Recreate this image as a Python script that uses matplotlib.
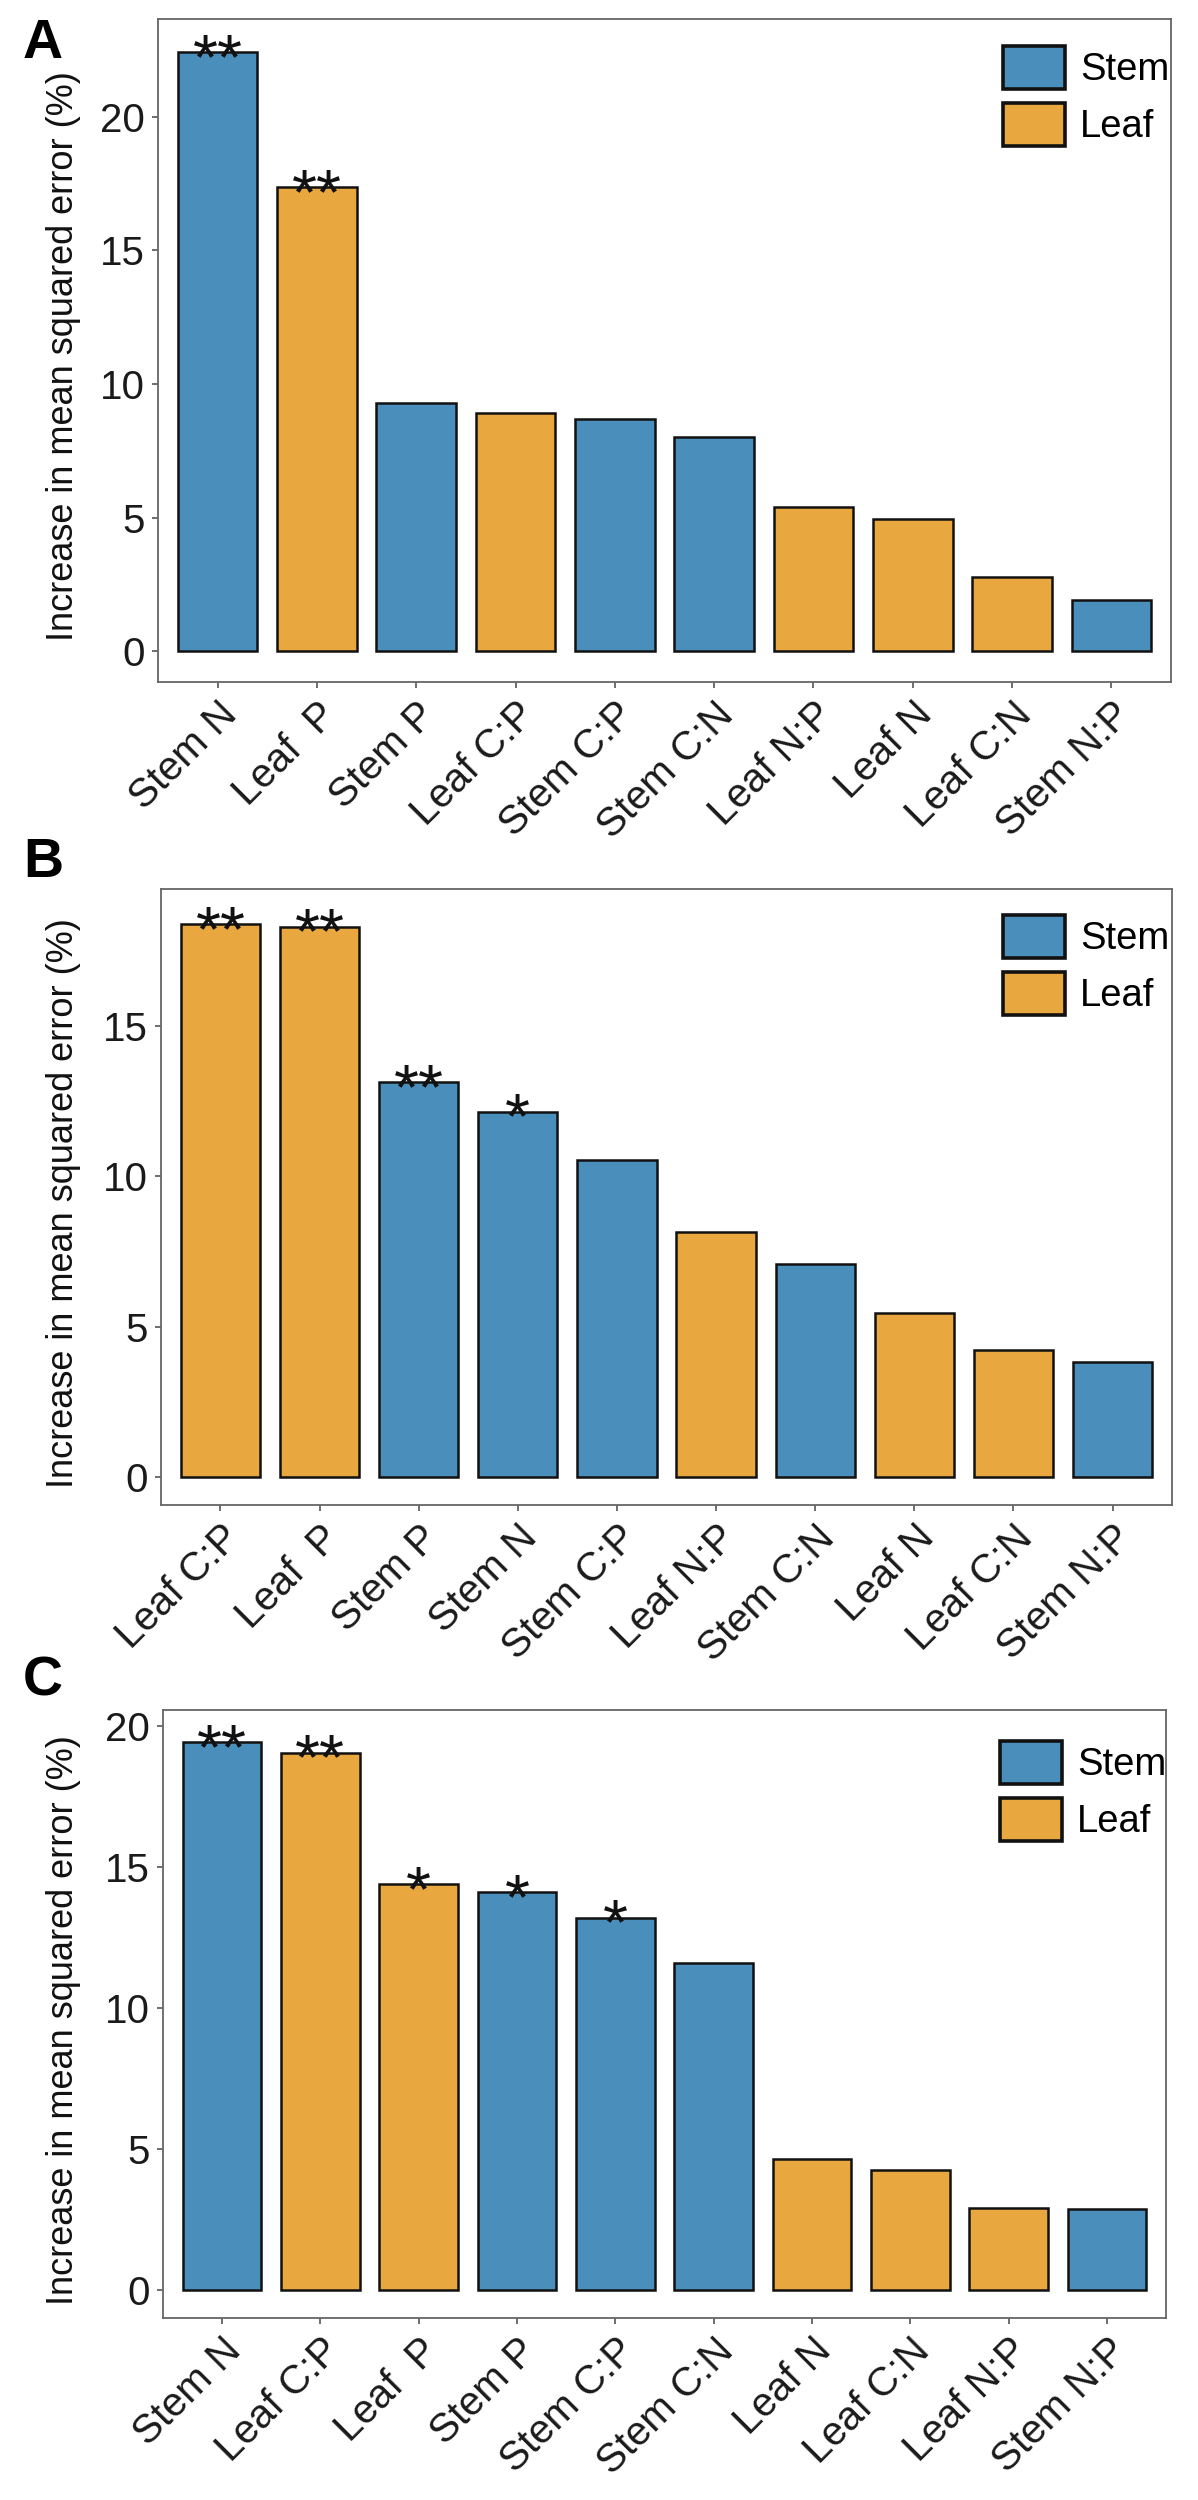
import matplotlib
matplotlib.use("Agg")
import matplotlib.pyplot as plt
from matplotlib.patches import Patch

plt.rcParams['font.family'] = ['Liberation Sans', 'DejaVu Sans']

# ---------------- data ----------------
A_labels = ["Stem N", "Leaf  P", "Stem P", "Leaf C:P", "Stem C:P", "Stem C:N",
            "Leaf N:P", "Leaf N", "Leaf C:N", "Stem N:P"]
A_values = [22.4, 17.35, 9.3, 8.93, 8.69, 8.02, 5.38, 4.96, 2.77, 1.91]
A_tissue = ["Stem", "Leaf", "Stem", "Leaf", "Stem", "Stem", "Leaf", "Leaf", "Leaf", "Stem"]
A_sig = ["**", "**", "", "", "", "", "", "", "", ""]

B_labels = ["Leaf C:P", "Leaf  P", "Stem P", "Stem N", "Stem C:P", "Leaf N:P",
            "Stem C:N", "Leaf N", "Leaf C:N", "Stem N:P"]
B_values = [18.37, 18.3, 13.12, 12.15, 10.54, 8.16, 7.08, 5.47, 4.21, 3.83]
B_tissue = ["Leaf", "Leaf", "Stem", "Stem", "Stem", "Leaf", "Stem", "Leaf", "Leaf", "Stem"]
B_sig = ["**", "**", "**", "*", "", "", "", "", "", ""]

C_labels = ["Stem N", "Leaf C:P", "Leaf  P", "Stem P", "Stem C:P", "Stem C:N",
            "Leaf N", "Leaf C:N", "Leaf N:P", "Stem N:P"]
C_values = [19.4, 19.04, 14.37, 14.1, 13.19, 11.57, 4.63, 4.24, 2.91, 2.87]
C_tissue = ["Stem", "Leaf", "Leaf", "Stem", "Stem", "Stem", "Leaf", "Leaf", "Leaf", "Stem"]
C_sig = ["**", "**", "*", "*", "*", "", "", "", "", ""]

A_yticks = [0, 5, 10, 15, 20]
B_yticks = [0, 5, 10, 15]
C_yticks = [0, 5, 10, 15, 20]

legend_labels = ["Stem", "Leaf"]
colors = {"Stem": "#4A8EBB", "Leaf": "#E9A83F"}
ylabel = "Increase in mean squared error (%)"

# ---------------- figure ----------------
W, H = 1198, 2500
fig = plt.figure(figsize=(W / 100, H / 100), dpi=100)

panels = [
    dict(letter="A", labels=A_labels, values=A_values, tissue=A_tissue, sig=A_sig,
         yticks=A_yticks, ylim=(-1.15, 23.65), box=(158, 19, 1171, 682),
         leg=(1003, 46), letter_base=58),
    dict(letter="B", labels=B_labels, values=B_values, tissue=B_tissue, sig=B_sig,
         yticks=B_yticks, ylim=(-0.93, 19.55), box=(161, 889, 1172, 1505),
         leg=(1003, 915), letter_base=877),
    dict(letter="C", labels=C_labels, values=C_values, tissue=C_tissue, sig=C_sig,
         yticks=C_yticks, ylim=(-1.0, 20.55), box=(163, 1710, 1166, 2318),
         leg=(1000, 1741), letter_base=1695),
]

FS = 29          # tick labels
FS_LEG = 27.5    # legend
FS_Y = 26        # y title
FS_STAR = 46
px_per_pt = 100 / 72
for p in panels:
    x0, y0, x1, y1 = p["box"]
    ax = fig.add_axes([x0 / W, 1 - y1 / H, (x1 - x0) / W, (y1 - y0) / H])
    n = len(p["values"])
    xs = list(range(n))
    ax.bar(xs, p["values"], width=0.8,
           color=[colors[t] for t in p["tissue"]],
           edgecolor="#111111", linewidth=1.8, zorder=2)
    for xi, v, s in zip(xs, p["values"], p["sig"]):
        if s:
            ax.annotate(s, (xi, v), xytext=(0, -0.42 * FS_STAR), textcoords="offset points",
                        ha="center", va="baseline", fontsize=FS_STAR, color="#111111",
                        zorder=3)
    ax.set_xlim(-0.6, n - 0.4)
    ax.set_ylim(*p["ylim"])
    ax.set_yticks(p["yticks"])
    ax.set_yticklabels([str(t) for t in p["yticks"]])
    ax.set_xticks(xs)
    ax.set_xticklabels(p["labels"], rotation=45, ha="right", va="top",
                       rotation_mode="anchor")
    ax.tick_params(axis="both", direction="out", length=4.5, width=1.2,
                   color="#555555", labelsize=FS, labelcolor="#1a1a1a", pad=5)
    for sp in ax.spines.values():
        sp.set_color("#666666")
        sp.set_linewidth(1.3)
    # y title
    cy = 1 - ((y0 + y1) / 2 + 6) / H
    fig.text(64 / W, cy, ylabel, rotation=90, ha="center", va="center",
             fontsize=FS_Y, color="#111111")
    # legend
    handles = [Patch(facecolor=colors[k], edgecolor="#111111", linewidth=2.6)
               for k in legend_labels]
    lx, ly = p["leg"]
    fpx = FS_LEG * px_per_pt
    ax.legend(handles, legend_labels, loc="upper left",
              bbox_to_anchor=(lx / W, 1 - ly / H), bbox_transform=fig.transFigure,
              frameon=False, fontsize=FS_LEG, borderpad=0, borderaxespad=0,
              handlelength=62 / fpx, handleheight=52 / fpx,
              labelspacing=0.36, handletextpad=0.4)
    # panel letter
    fig.text(23 / W, 1 - p["letter_base"] / H, p["letter"], ha="left", va="baseline",
             fontsize=40, fontweight="bold", color="#000000")

fig.savefig("out.png", dpi=100)
